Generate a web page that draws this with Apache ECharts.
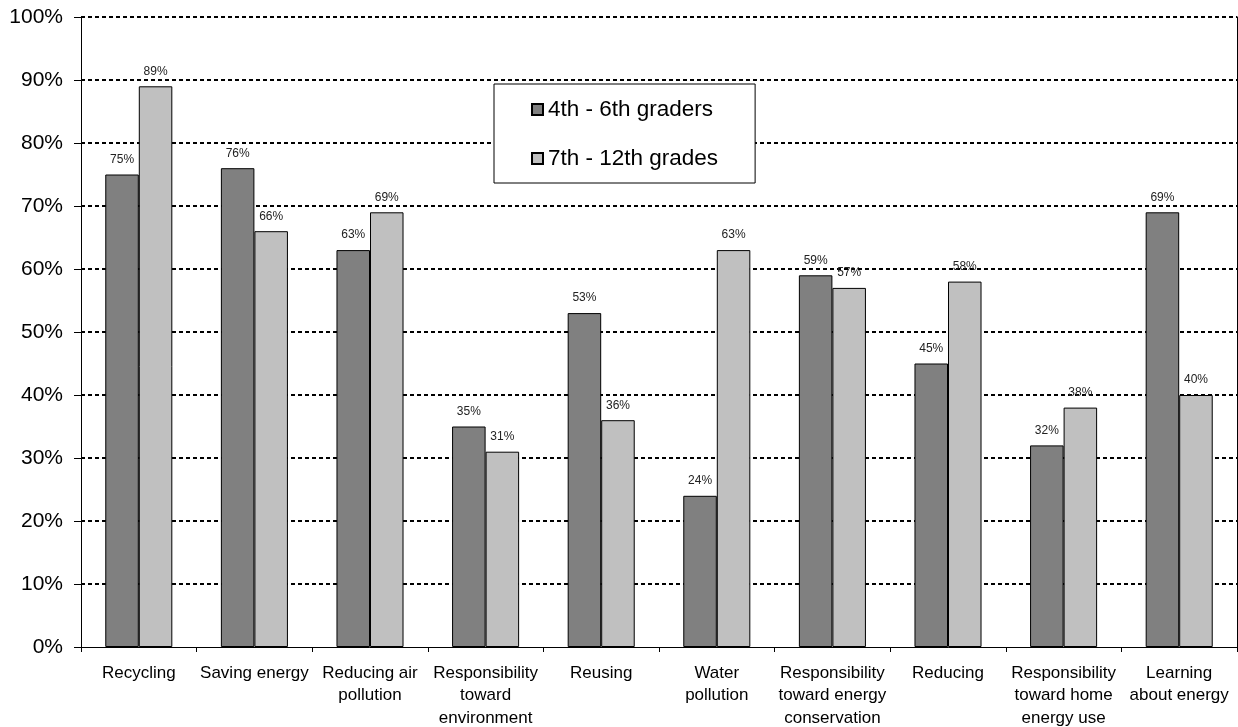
<!DOCTYPE html>
<html>
<head>
<meta charset="utf-8">
<script src="https://cdn.jsdelivr.net/npm/echarts@6/dist/echarts.min.js"></script>
<style>
  html, body { margin: 0; padding: 0; background: #fff; }
  #chart { width: 1238px; height: 727px; }
</style>
</head>
<body>
<div id="chart"></div>
<script>
// Topics students reported as learned, by grade group
const categories = [
  'Recycling',
  'Saving energy',
  'Reducing air\npollution',
  'Responsibility\ntoward\nenvironment',
  'Reusing',
  'Water\npollution',
  'Responsibility\ntoward energy\nconservation',
  'Reducing',
  'Responsibility\ntoward home\nenergy use',
  'Learning\nabout energy'
];
const seriesNames = ['4th - 6th graders', '7th - 12th grades'];
const grades4to6 = [75, 76, 63, 35, 53, 24, 59, 45, 32, 69];
const grades7to12 = [89, 66, 69, 31, 36, 63, 57, 58, 38, 40];

const FONT = '"Liberation Sans", Arial, sans-serif';

function barSeries(name, data, color) {
  return {
    name: name,
    type: 'bar',
    data: data,
    barGap: '0%',
    barCategoryGap: '42%',
    itemStyle: { color: color, borderColor: '#000', borderWidth: 1 },
    label: {
      show: true,
      position: 'top',
      distance: 9,
      formatter: p => p.value + '%',
      fontFamily: FONT,
      fontSize: 12,
      color: '#222'
    }
  };
}

const chart = echarts.init(document.getElementById('chart'), null, { renderer: 'canvas' });
chart.setOption({
  backgroundColor: '#fff',
  animation: false,
  grid: {
    left: 81, right: 1, top: 17, bottom: 80,
    containLabel: false, outerBoundsMode: 'none', show: false
  },
  legend: {
    data: seriesNames,
    orient: 'vertical',
    left: 494,
    top: 84,
    padding: [14, 37, 13, 37],
    itemGap: 26,
    itemWidth: 11,
    itemHeight: 11,
    icon: 'rect',
    backgroundColor: '#fff',
    borderColor: '#000',
    borderWidth: 1,
    borderRadius: 0,
    textStyle: { fontFamily: FONT, fontSize: 22.5, color: '#000', lineHeight: 22 }
  },
  xAxis: {
    type: 'category',
    data: categories,
    boundaryGap: true,
    z: 5,
    axisLine: { show: true, lineStyle: { color: '#000', width: 1 } },
    axisTick: { show: true, alignWithLabel: false, length: 5, lineStyle: { color: '#000' } },
    axisLabel: {
      interval: 0,
      margin: 15,
      fontFamily: FONT,
      fontSize: 17,
      lineHeight: 22.5,
      color: '#000',
      align: 'center'
    },
    splitLine: { show: false }
  },
  yAxis: [{
    type: 'value',
    min: 0,
    max: 100,
    interval: 10,
    axisLine: { show: true, lineStyle: { color: '#000', width: 1 } },
    axisTick: { show: true, length: 7, lineStyle: { color: '#000' } },
    axisLabel: {
      formatter: v => v + '%',
      margin: 18,
      fontFamily: FONT,
      fontSize: 21,
      color: '#000'
    },
    splitLine: {
      show: true,
      showMinLine: false,
      lineStyle: { color: '#000', width: 2, type: [4, 3] }
    }
  }, {
    // plain right-hand border of the plot area
    type: 'value',
    position: 'right',
    min: 0,
    max: 100,
    axisLine: { show: true, lineStyle: { color: '#000', width: 1 } },
    axisTick: { show: false },
    axisLabel: { show: false },
    splitLine: { show: false }
  }],
  series: [
    barSeries(seriesNames[0], grades4to6, '#808080'),
    barSeries(seriesNames[1], grades7to12, '#c0c0c0')
  ]
});
</script>
</body>
</html>
